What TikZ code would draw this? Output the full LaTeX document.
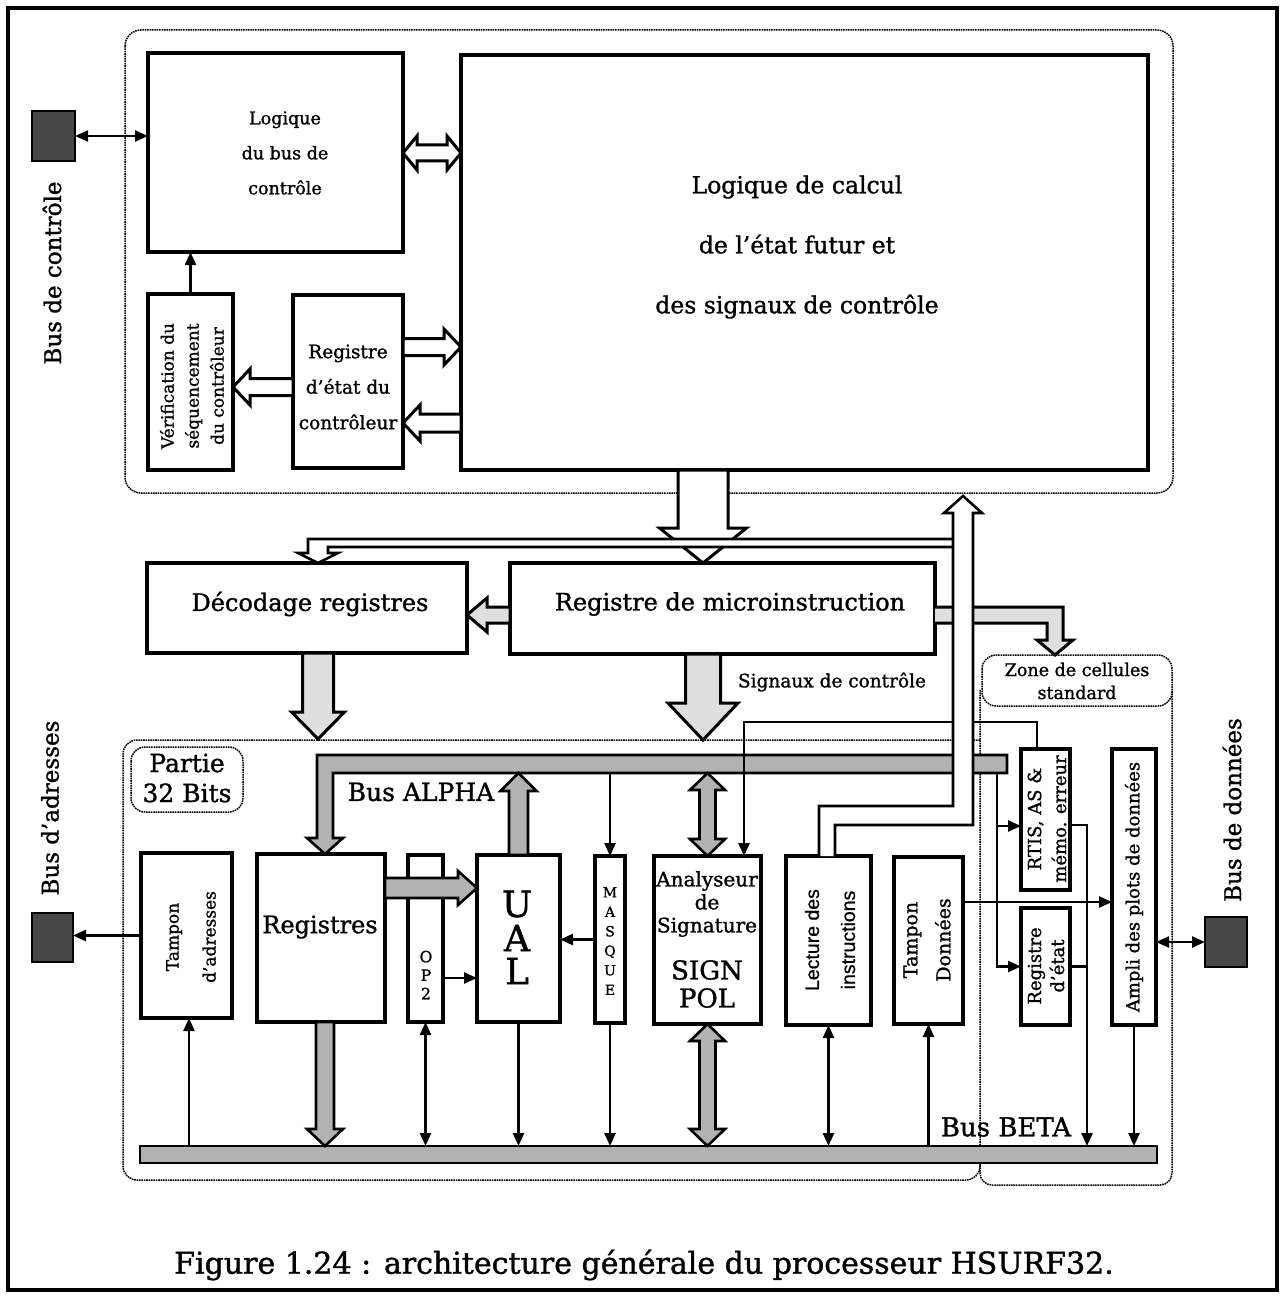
\documentclass[tikz,border=0pt]{standalone}
\usepackage{fontspec}
\setmainfont{DejaVu Serif}[RawFeature={embolden=1.2}]
\newfontfamily\helvfont{Liberation Sans}[RawFeature={embolden=0.8}]
\usetikzlibrary{arrows.meta,calc,fit}

\newcommand{\myfs}[2]{\fontsize{#1}{#2}\selectfont}
% single fat arrow: style, tail, tip, shaft half width, head half width, head length
\newcommand{\fatarr}[6]{%
  \coordinate (fah) at ($#3!#6!#2$);
  \draw[#1] ($#2!#4!90:#3$) -- ($(fah)!#4!90:#3$) -- ($(fah)!#5!90:#3$) -- #3
    -- ($(fah)!#5!-90:#3$) -- ($(fah)!#4!-90:#3$) -- ($#2!#4!-90:#3$) -- cycle;}
% double fat arrow
\newcommand{\dfatarr}[6]{%
  \coordinate (fab) at ($#3!#6!#2$);
  \coordinate (faa) at ($#2!#6!#3$);
  \draw[#1] #2 -- ($(faa)!#5!90:#3$) -- ($(faa)!#4!90:#3$) -- ($(fab)!#4!90:#3$)
    -- ($(fab)!#5!90:#3$) -- #3 -- ($(fab)!#5!-90:#3$) -- ($(fab)!#4!-90:#3$)
    -- ($(faa)!#4!-90:#3$) -- ($(faa)!#5!-90:#3$) -- cycle;}

\tikzset{
  box/.style={draw, line width=3.2pt, inner sep=0pt, outer sep=0pt},
  pad/.style={draw, fill=black!72, line width=1.5pt, inner sep=0pt, outer sep=0pt},
  busbar/.style={draw, fill=gray!60, line width=2.6pt, inner sep=0pt, outer sep=0pt},
  lightfill/.style={draw, fill=gray!25, line width=3pt},
  hollow/.style={draw, fill=white, line width=3pt},
  wavy/.style={dash pattern=on 1.6pt off 0.8pt, line width=1.5pt},
  wire/.style={line width=2.4pt},
  arr/.style={-{Triangle[length=13pt,width=11pt]}},
  darr/.style={{Triangle[length=13pt,width=11pt]}-{Triangle[length=13pt,width=11pt]}},
}

\begin{document}
\begin{tikzpicture}[x=1pt,y=-1pt]
\fill[white] (0,0) rectangle (1281,1297);
\useasboundingbox (0,0) rectangle (1281,1297);

% helper coordinates
\path (0,153) coordinate (y153) (0,347) coordinate (y347) (0,387) coordinate (y387)
      (0,423) coordinate (y423) (0,615) coordinate (y615) (0,607) coordinate (y607)
      (0,623) coordinate (y623) (0,773) coordinate (alphab) (0,826) coordinate (y826)
      (0,825) coordinate (y825) (0,888) coordinate (y888) (0,902) coordinate (y902)
      (0,978) coordinate (y978)
      (703,0) coordinate (x703) (318,0) coordinate (x318) (325,0) coordinate (x325)
      (189,0) coordinate (x189) (1037,0) coordinate (x1037) (744,0) coordinate (x744)
      (819,0) coordinate (x819) (835,0) coordinate (x835) (1087,0) coordinate (x1087);

% outer frame
\draw[line width=3.5pt] (8,8) rectangle (1277,1290);

% dotted regions
\draw[wavy, rounded corners=16pt] (125,30) rectangle (1173,493);
\draw[wavy, rounded corners=14pt] (980,740) -- (123,740) -- (123,1180) -- (980,1180) -- (980,1160);
\draw[wavy, rounded corners=12pt] (980,690) -- (980,1185) -- (1172,1185) -- (1172,690);
\draw[wavy, fill=white, rounded corners=14pt] (982,655) rectangle (1172,706);
\draw[wavy, rounded corners=14pt] (131,747) rectangle (243,812);

% boxes
\node[box, fit={(148,53) (403,252)}] (lbus) {};
\node[box, fit={(461,55) (1148,470)}] (calc) {};
\node[pad, fit={(32,111) (75,161)}] (sqc) {};
\node[box, fit={(148,294) (233,470)}] (verif) {};
\node[box, fit={(293,295) (403,468)}] (regetat) {};
\node[box, fit={(147,563) (467,653)}] (decod) {};
\node[box, fit={(510,563) (935,654)}] (rmicro) {};
\node[box, fit={(141,853) (232,1018)}] (tampa) {};
\node[pad, fit={(32,913) (73,962)}] (sqa) {};
\node[box, fit={(257,854) (385,1022)}] (regs) {};
\node[box, fit={(408,855) (443,1022)}] (op2) {};
\node[box, fit={(477,855) (560,1022)}] (ual) {};
\node[box, fit={(595,856) (625,1023)}] (masque) {};
\node[box, fit={(654,856) (761,1024)}] (analy) {};
\node[box, fit={(786,856) (871,1025)}] (lect) {};
\node[box, fit={(894,857) (963,1024)}] (tampd) {};
\node[box, fit={(1021,749) (1070,890)}] (rtis) {};
\node[box, fit={(1021,908) (1070,1025)}] (retat) {};
\node[box, fit={(1112,749) (1156,1025)}] (ampli) {};
\node[pad, fit={(1205,917) (1247,967)}] (sqd) {};

% control section connectors
\draw[wire,darr] (sqc.east) -- (lbus.west |- sqc.east);
\coordinate (h1) at (lbus.east |- y153);
\coordinate (h2) at (calc.west |- y153);
\dfatarr{hollow}{(h1)}{(h2)}{8pt}{17pt}{14pt}
\draw[wire,arr] (verif.north) -- (verif.north |- lbus.south);
\coordinate (r1) at (regetat.east |- y347);
\coordinate (r2) at (calc.west |- y347);
\fatarr{hollow}{(r1)}{(r2)}{8.5pt}{18pt}{17pt}
\coordinate (r3) at (calc.west |- y423);
\coordinate (r4) at (regetat.east |- y423);
\fatarr{hollow}{(r3)}{(r4)}{9pt}{18pt}{17pt}
\coordinate (r5) at (regetat.west |- y387);
\coordinate (r6) at (verif.east |- y387);
\fatarr{hollow}{(r5)}{(r6)}{8.5pt}{18pt}{17pt}

% middle: calc -> micro instruction register
\coordinate (m1) at (calc.south -| x703);
\coordinate (m2) at (rmicro.north -| x703);
\fatarr{hollow}{(m1)}{(m2)}{25pt}{43.5pt}{35pt}
% double line to the register decoder
\draw[hollow, line width=2.6pt] (953,539) -- (308,539) -- (308,553) -- (298,553)
  -- (decod.north -| x318) -- (338,553) -- (328,553) -- (328,547) -- (953,547);

% grey arrows
\coordinate (m3) at (rmicro.west |- y615);
\coordinate (m4) at (decod.east |- y615);
\fatarr{lightfill}{(m3)}{(m4)}{8pt}{17pt}{20pt}
\draw[lightfill] (rmicro.east |- y607) -- (1063,607) -- (1063,640) -- (1073,640)
  -- (1055,655) -- (1037,640) -- (1047,640) -- (1047,623) -- (rmicro.east |- y623);
\coordinate (m5) at (decod.south -| x318);
\coordinate (m6) at (318,739);
\fatarr{lightfill}{(m5)}{(m6)}{15.5pt}{26.5pt}{27pt}
\coordinate (m7) at (rmicro.south -| x703);
\coordinate (m8) at (703,740);
\fatarr{lightfill}{(m7)}{(m8)}{17.5pt}{35pt}{37pt}

% buses
\draw[busbar] (1007,755) -- (317,755) -- (317,838) -- (307,838) -- (regs.north -| x325)
  -- (343,838) -- (333,838) -- (333,773) -- (1007,773) -- cycle;
\node[busbar, fit={(140,1146) (1157,1163)}] (beta) {};

% control signal wire analyser <- RTIS
\draw[wire,arr] (rtis.north -| x1037) |- (744,722) -- (analy.north -| x744);

% hollow arrow from instruction fetch up to the control logic
\draw[hollow, line width=2.6pt] (lect.north -| x819) -- (819,806) -- (953,806) -- (953,513)
  -- (944,513) -- (963,496) -- (982,513) -- (973,513) -- (973,825) -- (835,825)
  -- (lect.north -| x835);

% lower section fat arrows
\fatarr{busbar}{(ual.north)}{(ual.north |- alphab)}{9.5pt}{18pt}{18pt}
\coordinate (l1) at (regs.east |- y888);
\coordinate (l2) at (ual.west |- y888);
\fatarr{busbar}{(l1)}{(l2)}{10pt}{17pt}{19pt}
\coordinate (l3) at (regs.south -| x325);
\coordinate (l4) at (beta.north -| x325);
\fatarr{busbar}{(l3)}{(l4)}{9pt}{18pt}{17pt}
\coordinate (l5) at (analy.north |- alphab);
\dfatarr{busbar}{(l5)}{(analy.north)}{8pt}{17.5pt}{17pt}
\coordinate (l6) at (analy.south |- beta.north);
\dfatarr{busbar}{(analy.south)}{(l6)}{8pt}{17.5pt}{17pt}

% thin wires
\draw[wire,arr] (tampa.west) -- (tampa.west -| sqa.east);
\draw[wire,arr] (beta.north -| x189) -- (tampa.south -| x189);
\draw[wire,darr] (op2.south) -- (op2.south |- beta.north);
\draw[wire,arr] (op2.east |- y978) -- (ual.west |- y978);
\draw[wire,arr] (ual.south) -- (ual.south |- beta.north);
\draw[wire,arr] (masque.north |- alphab) -- (masque.north);
\draw[wire,arr] (masque.west) -- (masque.west -| ual.east);
\draw[wire,arr] (masque.south) -- (masque.south |- beta.north);
\draw[wire,darr] (lect.south) -- (lect.south |- beta.north);
\draw[wire,arr] (tampd.south |- beta.north) -- (tampd.south);
\draw[wire,arr] (tampd.east |- y902) -- (ampli.west |- y902);
\draw[wire,arr] (997,773) |- (retat.west);
\draw[wire,arr] (997,826) -- (rtis.west |- y826);
\draw[wire,arr] (rtis.east |- y825) -| (beta.north -| x1087);
\draw[wire] (retat.east) -- (retat.east -| x1087);
\draw[wire,arr] (ampli.south) -- (ampli.south |- beta.north);
\draw[wire,darr] (ampli.east |- sqd.west) -- (sqd.west);

% texts
\node[font=\myfs{17.5}{35}, align=center] (t1) at (285,153) {Logique\\du bus de\\contrôle};
\node[font=\myfs{23.5}{60}, align=center] (t2) at (797,247) {Logique de calcul\\de l'état futur et\\des signaux de contrôle};
\node[font=\myfs{17}{25}, align=center, rotate=90] (t3) at (192,386) {Vérification du\\séquencement\\du contrôleur};
\node[font=\myfs{18.5}{35.5}, align=center] (t4) at (348,387) {Registre\\d'état du\\contrôleur};
\node[font=\myfs{24}{28}] (t5) at (310,604) {Décodage registres};
\node[font=\myfs{24}{28}] (t6) at (730,604) {Registre de microinstruction};
\node[font=\myfs{18.5}{22}] (t7) at (832,682) {Signaux de contrôle};
\node[font=\myfs{17.5}{23}, align=center] (t8) at (1077,681) {Zone de cellules\\standard};
\node[font=\myfs{25}{30}, align=center] (t9) at (187,778) {Partie\\32 Bits};
\node[font=\myfs{25}{28}] (t10) at (421,792) {Bus ALPHA};
\node[font=\myfs{17}{37}, align=center, rotate=90] (t11) at (191,937) {Tampon\\d'adresses};
\node[font=\myfs{24}{28}] (t12) at (320,927) {Registres};
\node[font=\myfs{15.5}{18.5}, align=center] (t13) at (426,975) {O\\P\\2};
\node[font=\myfs{36}{36}, inner sep=0pt] (t14a) at (517,904) {U};
\node[font=\myfs{36}{36}, inner sep=0pt] (t14b) at (517,938) {A};
\node[font=\myfs{36}{36}, inner sep=0pt] (t14c) at (517,971) {L};
\node[font=\myfs{14}{19.5}, align=center] (t15) at (610,941) {M\\A\\S\\Q\\U\\E};
\node[font=\myfs{20}{23}, align=center] (t16) at (707,904) {Analyseur\\de\\Signature};
\node[font=\myfs{26}{28}, align=center] (t17) at (707,984) {SIGN\\POL};
\node[font=\helvfont\myfs{19.5}{36}, align=center, rotate=90] (t18) at (830,940) {Lecture des\\instructions};
\node[font=\myfs{19}{33}, align=center, rotate=90] (t19) at (927,940) {Tampon\\Données};
\node[font=\myfs{18}{25}, align=center, rotate=90] (t20) at (1047,819) {RTIS, AS \&\\mémo. erreur};
\node[font=\myfs{18}{23}, align=center, rotate=90] (t21) at (1046,966) {Registre\\d'état};
\node[font=\myfs{18}{20}, rotate=90] (t22) at (1134,887) {Ampli des plots de données};
\node[font=\myfs{26}{28}] (t23) at (1006,1127) {Bus BETA};
\node[font=\myfs{23}{26}, rotate=90] (t24) at (52,273) {Bus de contrôle};
\node[font=\myfs{23}{26}, rotate=90] (t25) at (50,808) {Bus d'adresses};
\node[font=\myfs{23}{26}, rotate=90] (t26) at (1232,810) {Bus de données};
\node[font=\myfs{30}{34}] (t27) at (644,1265) {Figure 1.24 : architecture générale du processeur HSURF32.};
\end{tikzpicture}
\end{document}
